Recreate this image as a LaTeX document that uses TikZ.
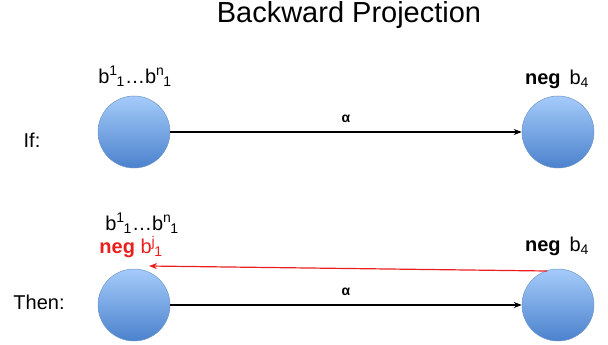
\documentclass[tikz,border=0pt]{standalone}
\usepackage{fontspec}
\setmainfont{Liberation Sans}
\usetikzlibrary{arrows.meta}
\definecolor{negred}{RGB}{235,30,30}
\newcommand{\bsupsub}[2]{b\textsuperscript{#1}\kern-0.05em\textsubscript{#2}}
\tikzset{
  ball/.style={circle, minimum size=72pt, inner sep=0pt, draw={rgb,255:red,110;green,150;blue,200}, line width=0.5pt,
    top color={rgb,255:red,165;green,203;blue,250}, bottom color={rgb,255:red,75;green,130;blue,205}},
  lbl/.style={font=\fontsize{20}{22}\selectfont, inner sep=0pt},
  alab/.style={font=\fontsize{14}{16}\selectfont\bfseries, inner sep=0pt},
  conn/.style={line width=1.2pt, -{Stealth[length=8pt,width=6pt]}},
  redconn/.style={conn, draw=negred, -{Stealth[length=8pt,width=6pt,color=negred]}}
}
\begin{document}
\begin{tikzpicture}[x=1pt,y=-1pt]
\useasboundingbox (0,0) rectangle (608,345);
\node[inner sep=0pt, font=\fontsize{29}{32}\selectfont] (title) at (349,15) {Backward Projection};
% top row
\node[lbl] (if) at (32,140) {If:};
\node[ball] (a1) at (134,132) {};
\node[ball] (a2) at (558,132) {};
\node[lbl] (la1) at (135,76) {\bsupsub{1}{1}…\bsupsub{n}{1}};
\node[lbl] (la2) at (557,79) {\textbf{neg}\, b\textsubscript{4}};
\draw[conn] (a1.east) -- (a2.west) node[midway, above=9pt, alab] (al1) {α};
% bottom row
\node[lbl] (then) at (39,302) {Then:};
\node[ball] (b1) at (134,305) {};
\node[ball] (b2) at (558,305) {};
\node[lbl] (lb1) at (142,223) {\bsupsub{1}{1}…\bsupsub{n}{1}};
\node[lbl, text=negred] (lb1n) at (131,247) {\textbf{neg} \bsupsub{j}{1}};
\node[lbl] (lb2) at (557,246) {\textbf{neg}\, b\textsubscript{4}};
\coordinate (rs) at (547,271);
\coordinate (re) at (149,266);
\draw[redconn] (rs) -- (re);
\draw[conn] (b1.east) -- (b2.west) node[midway, above=9pt, alab] (al2) {α};
\end{tikzpicture}
\end{document}
